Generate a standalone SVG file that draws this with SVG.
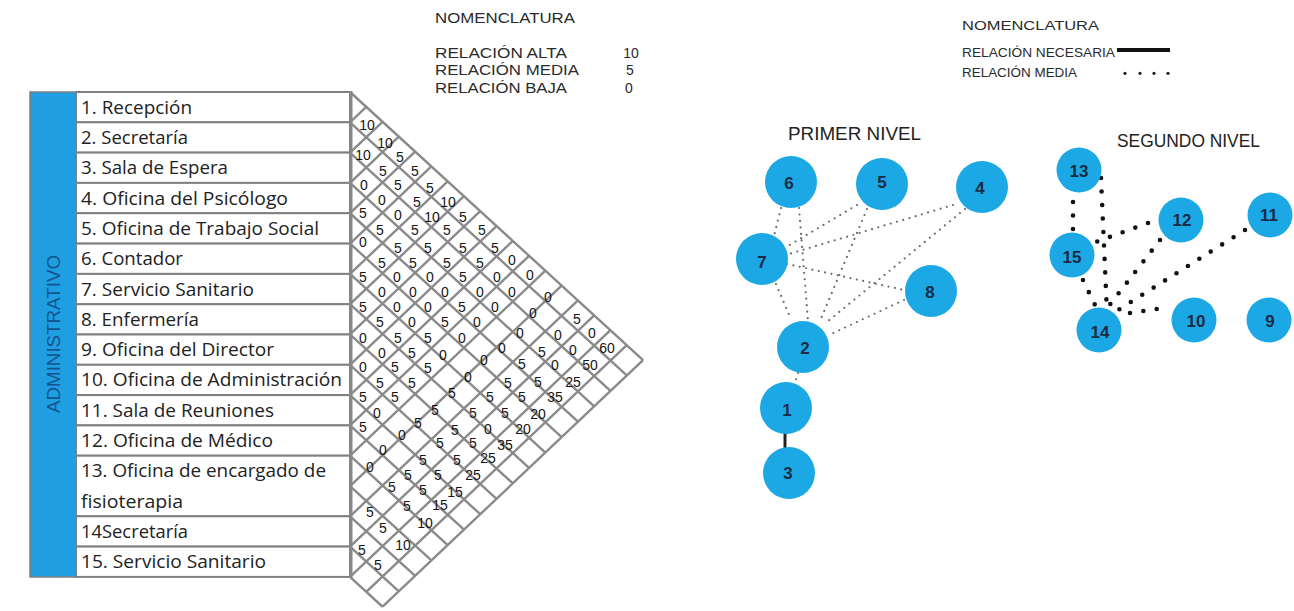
<svg xmlns="http://www.w3.org/2000/svg" width="1294" height="611" viewBox="0 0 1294 611">
<style>
.bg{fill:#fff}
.tbl{fill:#fff;stroke:#808080;stroke-width:2}
.bar{fill:#1f9fe2;stroke:#808080;stroke-width:1.5}
.adm{font-family:'Liberation Sans',Arial,sans-serif;font-size:18px;fill:#13548e;text-anchor:middle}
.row{font-family:'Open Sans','Noto Sans',sans-serif;font-size:18px;fill:#222}
.lt{stroke:#8a8a8a;stroke-width:2.4;fill:none}
.edge{stroke:#888;stroke-width:3;fill:none}
.num{font-family:'Liberation Sans',Arial,sans-serif;font-size:14px;fill:#151515;text-anchor:middle}
.leg{font-family:'Liberation Sans',Arial,sans-serif;font-size:14px;fill:#2a2a2a}
.legr{font-family:'Liberation Sans',Arial,sans-serif;font-size:13.5px;fill:#2a2a2a}
.ttl{font-family:'Liberation Sans',Arial,sans-serif;font-size:17.5px;fill:#222}
.node circle{fill:#1ba8e4}
.node text{font-family:'Liberation Sans',Arial,sans-serif;font-size:17px;font-weight:bold;fill:#1b2b44;text-anchor:middle}
.d1{stroke:#6a6a6a;stroke-width:2.2;stroke-linecap:round;stroke-dasharray:0 6.5;fill:none}
.d2{stroke:#111;stroke-width:4.6;stroke-linecap:round;stroke-dasharray:0 13.5;fill:none}
.solid{stroke:#222;stroke-width:3;fill:none}
</style>
<rect class="bg" x="0" y="0" width="1294" height="611"/>

<!-- Left legend -->
<g id="legend-left">
<text class="leg" x="435" y="23" textLength="140" lengthAdjust="spacingAndGlyphs">NOMENCLATURA</text>
<text class="leg" x="435" y="58" textLength="132" lengthAdjust="spacingAndGlyphs">RELACIÓN ALTA</text>
<text class="leg" x="435" y="75" textLength="144" lengthAdjust="spacingAndGlyphs">RELACIÓN MEDIA</text>
<text class="leg" x="435" y="93" textLength="132" lengthAdjust="spacingAndGlyphs">RELACIÓN BAJA</text>
<text class="leg" x="631" y="58" text-anchor="middle">10</text>
<text class="leg" x="630" y="75" text-anchor="middle">5</text>
<text class="leg" x="629" y="93" text-anchor="middle">0</text>
</g>

<!-- Table -->
<g id="table">
<rect class="bar" x="30" y="92" width="46" height="485"/>
<text class="adm" transform="translate(60,334) rotate(-90)" textLength="158" lengthAdjust="spacingAndGlyphs">ADMINISTRATIVO</text>
<rect class="tbl" x="76" y="92" width="274" height="30.3"/>
<rect class="tbl" x="76" y="122.3" width="274" height="30.3"/>
<rect class="tbl" x="76" y="152.6" width="274" height="30.3"/>
<rect class="tbl" x="76" y="182.9" width="274" height="30.3"/>
<rect class="tbl" x="76" y="213.2" width="274" height="30.4"/>
<rect class="tbl" x="76" y="243.6" width="274" height="30.3"/>
<rect class="tbl" x="76" y="273.9" width="274" height="30.3"/>
<rect class="tbl" x="76" y="304.2" width="274" height="30.3"/>
<rect class="tbl" x="76" y="334.5" width="274" height="30.3"/>
<rect class="tbl" x="76" y="364.8" width="274" height="30.3"/>
<rect class="tbl" x="76" y="395.1" width="274" height="30.3"/>
<rect class="tbl" x="76" y="425.4" width="274" height="30.3"/>
<rect class="tbl" x="76" y="455.7" width="274" height="60.6"/>
<rect class="tbl" x="76" y="516.3" width="274" height="30.3"/>
<rect class="tbl" x="76" y="546.6" width="274" height="30.3"/>
<text class="row" x="81" y="113.5" textLength="111" lengthAdjust="spacingAndGlyphs">1. Recepción</text>
<text class="row" x="81" y="144" textLength="107" lengthAdjust="spacingAndGlyphs">2. Secretaría</text>
<text class="row" x="81" y="174.2" textLength="147" lengthAdjust="spacingAndGlyphs">3. Sala de Espera</text>
<text class="row" x="81" y="204.5" textLength="207" lengthAdjust="spacingAndGlyphs">4. Oficina del Psicólogo</text>
<text class="row" x="81" y="234.8" textLength="238" lengthAdjust="spacingAndGlyphs">5. Oficina de Trabajo Social</text>
<text class="row" x="81" y="265.2" textLength="102" lengthAdjust="spacingAndGlyphs">6. Contador</text>
<text class="row" x="81" y="295.5" textLength="173" lengthAdjust="spacingAndGlyphs">7. Servicio Sanitario</text>
<text class="row" x="81" y="325.8" textLength="118" lengthAdjust="spacingAndGlyphs">8. Enfermería</text>
<text class="row" x="81" y="356.1" textLength="193" lengthAdjust="spacingAndGlyphs">9. Oficina del Director</text>
<text class="row" x="81" y="386.4" textLength="261" lengthAdjust="spacingAndGlyphs">10. Oficina de Administración</text>
<text class="row" x="81" y="416.7" textLength="193" lengthAdjust="spacingAndGlyphs">11. Sala de Reuniones</text>
<text class="row" x="81" y="447" textLength="192" lengthAdjust="spacingAndGlyphs">12. Oficina de Médico</text>
<text class="row" x="81" y="477.3" textLength="245" lengthAdjust="spacingAndGlyphs">13. Oficina de encargado de</text>
<text class="row" x="81" y="507.6" textLength="102" lengthAdjust="spacingAndGlyphs">fisioterapia</text>
<text class="row" x="81" y="537.9" textLength="107" lengthAdjust="spacingAndGlyphs">14Secretaría</text>
<text class="row" x="81" y="568.2" textLength="185" lengthAdjust="spacingAndGlyphs">15. Servicio Sanitario</text>
</g>

<!-- Relationship lattice -->
<g id="lattice">
<path class="lt" d="M350 92L643.04 360.02M350 122.31L626.76 375.44M350 152.62L610.48 390.86M350 182.93L594.2 406.28M350 213.24L577.92 421.7M350 243.55L561.64 437.12M350 273.86L545.36 452.54M350 304.17L529.08 467.96M350 334.48L512.8 483.38M350 364.79L496.52 498.8M350 395.1L480.24 514.22M350 425.41L463.96 529.64M350 455.72L447.68 545.06M350 486.03L431.4 560.48M350 516.34L415.12 575.9M350 546.65L398.84 591.32M350 576.96L382.56 606.74"/>
<path class="lt" d="M350 122.31L366.28 106.89M350 152.62L382.56 121.78M350 182.93L398.84 136.67M350 213.24L415.12 151.56M350 243.55L431.4 166.45M350 273.86L447.68 181.34M350 304.17L463.96 196.23M350 334.48L480.24 211.12M350 364.79L496.52 226.01M350 395.1L512.8 240.9M350 425.41L529.08 255.79M350 455.72L545.36 270.68M350 486.03L561.64 285.57M350 516.34L577.92 300.46M350 546.65L594.2 315.35M350 576.96L610.48 330.24M366.28 591.85L626.76 345.13M382.56 606.74L643.04 360.02"/>
<line class="edge" x1="351" y1="91" x2="351" y2="578"/>
</g>

<g id="lattice-values">
<text class="num" x="367" y="130">10</text>
<text class="num" x="385" y="148">10</text>
<text class="num" x="363" y="160">10</text>
<text class="num" x="400" y="162">5</text>
<text class="num" x="383" y="176">5</text>
<text class="num" x="415" y="176">5</text>
<text class="num" x="364" y="190">0</text>
<text class="num" x="398" y="190">5</text>
<text class="num" x="430" y="193">5</text>
<text class="num" x="382" y="205">0</text>
<text class="num" x="417" y="207">5</text>
<text class="num" x="448" y="207">10</text>
<text class="num" x="363" y="218">5</text>
<text class="num" x="398" y="220">0</text>
<text class="num" x="432" y="222">10</text>
<text class="num" x="463" y="222">5</text>
<text class="num" x="380" y="235">5</text>
<text class="num" x="415" y="235">5</text>
<text class="num" x="447" y="235">5</text>
<text class="num" x="482" y="235">5</text>
<text class="num" x="363" y="247">0</text>
<text class="num" x="398" y="253">5</text>
<text class="num" x="428" y="253">5</text>
<text class="num" x="463" y="253">5</text>
<text class="num" x="495" y="253">5</text>
<text class="num" x="382" y="268">5</text>
<text class="num" x="413" y="268">5</text>
<text class="num" x="447" y="268">5</text>
<text class="num" x="480" y="268">5</text>
<text class="num" x="512" y="265">0</text>
<text class="num" x="363" y="282">5</text>
<text class="num" x="397" y="282">0</text>
<text class="num" x="430" y="282">0</text>
<text class="num" x="463" y="282">5</text>
<text class="num" x="497" y="282">0</text>
<text class="num" x="530" y="280">0</text>
<text class="num" x="382" y="297">0</text>
<text class="num" x="413" y="297">0</text>
<text class="num" x="445" y="297">0</text>
<text class="num" x="480" y="297">0</text>
<text class="num" x="512" y="297">0</text>
<text class="num" x="548" y="302">0</text>
<text class="num" x="363" y="312">5</text>
<text class="num" x="397" y="312">0</text>
<text class="num" x="428" y="312">0</text>
<text class="num" x="462" y="312">5</text>
<text class="num" x="495" y="312">0</text>
<text class="num" x="533" y="318">0</text>
<text class="num" x="380" y="327">5</text>
<text class="num" x="412" y="327">0</text>
<text class="num" x="445" y="327">5</text>
<text class="num" x="477" y="327">0</text>
<text class="num" x="577" y="324">5</text>
<text class="num" x="363" y="343">0</text>
<text class="num" x="398" y="343">5</text>
<text class="num" x="428" y="343">5</text>
<text class="num" x="462" y="343">0</text>
<text class="num" x="520" y="338">0</text>
<text class="num" x="558" y="340">0</text>
<text class="num" x="592" y="338">0</text>
<text class="num" x="382" y="358">0</text>
<text class="num" x="412" y="358">5</text>
<text class="num" x="443" y="360">0</text>
<text class="num" x="502" y="353">0</text>
<text class="num" x="542" y="357">5</text>
<text class="num" x="573" y="355">0</text>
<text class="num" x="607" y="353">60</text>
<text class="num" x="363" y="372">0</text>
<text class="num" x="395" y="372">5</text>
<text class="num" x="428" y="373">5</text>
<text class="num" x="468" y="382">0</text>
<text class="num" x="484" y="365">0</text>
<text class="num" x="522" y="369">5</text>
<text class="num" x="555" y="370">0</text>
<text class="num" x="590" y="370">50</text>
<text class="num" x="380" y="388">5</text>
<text class="num" x="412" y="388">5</text>
<text class="num" x="452" y="398">5</text>
<text class="num" x="508" y="388">5</text>
<text class="num" x="538" y="387">5</text>
<text class="num" x="573" y="387">25</text>
<text class="num" x="363" y="402">5</text>
<text class="num" x="395" y="402">5</text>
<text class="num" x="435" y="415">5</text>
<text class="num" x="490" y="402">5</text>
<text class="num" x="522" y="402">5</text>
<text class="num" x="555" y="402">35</text>
<text class="num" x="377" y="418">0</text>
<text class="num" x="418" y="428">5</text>
<text class="num" x="473" y="418">5</text>
<text class="num" x="505" y="418">5</text>
<text class="num" x="538" y="419">20</text>
<text class="num" x="363" y="432">5</text>
<text class="num" x="488" y="434">0</text>
<text class="num" x="523" y="434">20</text>
<text class="num" x="402" y="440">0</text>
<text class="num" x="455" y="435">5</text>
<text class="num" x="505" y="450">35</text>
<text class="num" x="383" y="455">0</text>
<text class="num" x="440" y="448">5</text>
<text class="num" x="473" y="448">5</text>
<text class="num" x="370" y="472">0</text>
<text class="num" x="423" y="465">5</text>
<text class="num" x="457" y="465">5</text>
<text class="num" x="488" y="463">25</text>
<text class="num" x="408" y="480">5</text>
<text class="num" x="438" y="480">5</text>
<text class="num" x="473" y="480">25</text>
<text class="num" x="392" y="492">5</text>
<text class="num" x="423" y="495">5</text>
<text class="num" x="455" y="497">15</text>
<text class="num" x="370" y="517">5</text>
<text class="num" x="407" y="511">5</text>
<text class="num" x="440" y="510">15</text>
<text class="num" x="383" y="533">5</text>
<text class="num" x="425" y="528">10</text>
<text class="num" x="403" y="550">10</text>
<text class="num" x="362" y="555">5</text>
<text class="num" x="378" y="570">5</text>
</g>

<!-- Right legend and titles -->
<g id="legend-right">
<text class="legr" x="962" y="30" textLength="137" lengthAdjust="spacingAndGlyphs">NOMENCLATURA</text>
<text class="legr" x="962" y="56.5" textLength="153" lengthAdjust="spacingAndGlyphs">RELACIÓN NECESARIA</text>
<text class="legr" x="962" y="76.5" textLength="115" lengthAdjust="spacingAndGlyphs">RELACIÓN MEDIA</text>
<line x1="1117" y1="50" x2="1170" y2="50" stroke="#111" stroke-width="4"/>
<circle cx="1125" cy="73.3" r="1.6" fill="#222"/>
<circle cx="1140" cy="73.3" r="1.6" fill="#222"/>
<circle cx="1154" cy="73.3" r="1.6" fill="#222"/>
<circle cx="1168" cy="73.3" r="1.6" fill="#222"/>
</g>
<text class="ttl" x="788" y="140" textLength="133" lengthAdjust="spacingAndGlyphs">PRIMER NIVEL</text>
<text class="ttl" x="1117" y="147" textLength="143" lengthAdjust="spacingAndGlyphs">SEGUNDO NIVEL</text>

<!-- Connectors -->
<g id="connectors">
<path class="d1" d="M781 208L774 236"/>
<path class="d1" d="M799 208L808 321"/>
<path class="d1" d="M776 284L790 317"/>
<path class="d1" d="M857 205L788 246"/>
<path class="d1" d="M867 209L820 321"/>
<path class="d1" d="M953 205L789 254"/>
<path class="d1" d="M965 209L827 322"/>
<path class="d1" d="M787 264L904 290"/>
<path class="d1" d="M904 300L829 335"/>
<path class="d1" d="M798 373L795 383"/>
<path class="solid" d="M785 433L785 448"/>
<path class="d2" d="M1101 178L1107 313"/>
<path class="d2" d="M1073 202L1073 230"/>
<path class="d2" d="M1148 223L1093 243"/>
<path class="d2" d="M1160 240L1108 307"/>
<path class="d2" d="M1245 230L1115 312"/>
<path class="d2" d="M1083 280L1095 305"/>
<path class="d2" d="M1130 313L1170 307"/>
</g>

<!-- Nodes: first level -->
<g id="n6" class="node"><circle cx="791" cy="182" r="26"/><text x="789" y="189">6</text></g>
<g id="n5" class="node"><circle cx="882" cy="184" r="26"/><text x="882" y="188">5</text></g>
<g id="n4" class="node"><circle cx="982" cy="187" r="26"/><text x="980" y="194">4</text></g>
<g id="n7" class="node"><circle cx="762" cy="259" r="26"/><text x="762" y="268">7</text></g>
<g id="n8" class="node"><circle cx="931" cy="291" r="26"/><text x="930" y="298">8</text></g>
<g id="n2" class="node"><circle cx="803" cy="347" r="26"/><text x="805" y="354">2</text></g>
<g id="n1" class="node"><circle cx="786" cy="408" r="26"/><text x="787" y="416">1</text></g>
<g id="n3" class="node"><circle cx="789" cy="473" r="26"/><text x="788" y="479">3</text></g>
<!-- Nodes: second level -->
<g id="n13" class="node"><circle cx="1079" cy="170" r="22.5"/><text x="1079" y="177">13</text></g>
<g id="n12" class="node"><circle cx="1181" cy="220" r="22.5"/><text x="1182" y="226">12</text></g>
<g id="n11" class="node"><circle cx="1270" cy="215" r="22.5"/><text x="1269" y="221">11</text></g>
<g id="n15" class="node"><circle cx="1072" cy="255" r="22.5"/><text x="1072" y="263">15</text></g>
<g id="n14" class="node"><circle cx="1099" cy="330" r="22.5"/><text x="1100" y="338">14</text></g>
<g id="n10" class="node"><circle cx="1194" cy="320" r="22.5"/><text x="1196" y="327">10</text></g>
<g id="n9" class="node"><circle cx="1269" cy="320" r="22.5"/><text x="1270" y="327">9</text></g>
</svg>
